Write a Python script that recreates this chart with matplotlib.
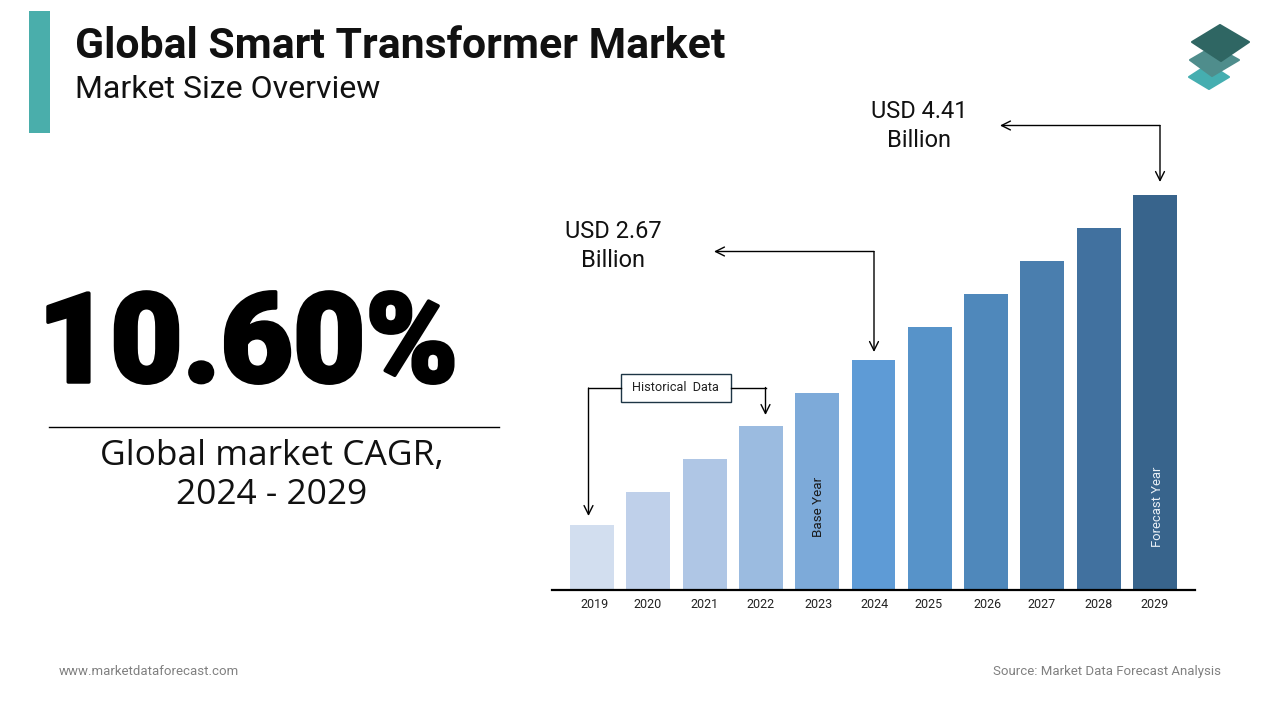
import matplotlib
matplotlib.use("Agg")
from matplotlib import pyplot as plt
from matplotlib import patheffects
from matplotlib.patches import Polygon, Rectangle

plt.rcParams['font.family'] = ['Roboto', 'DejaVu Sans']

# Data
years = ['2019', '2020', '2021', '2022', '2023', '2024', '2025', '2026', '2027', '2028', '2029']
heights = [65, 98, 131, 164, 197, 230, 263, 296, 329, 362, 395]
colors = ['#d2deef', '#bfd0ea', '#afc6e5', '#9bbbe0', '#7daad9', '#5e9bd6',
          '#5793c9', '#4f88bb', '#4a7eae', '#41719f', '#38648c']
label_nudge = [0.04, -0.01, 0.0, 0.0, 0.02, 0.01, -0.03, 0.03, -0.02, -0.01, 0.0]

W, H = 1280, 720
fig = plt.figure(figsize=(W / 100, H / 100), dpi=100, facecolor='white')

# overlay in pixel coordinates for the slide furniture
bg = fig.add_axes([0, 0, 1, 1])
bg.set_xlim(0, W)
bg.set_ylim(H, 0)
bg.axis('off')

# Chart
left, right, base, top = 552, 1195, 590, 100
ax = fig.add_axes([left / W, 1 - base / H, (right - left) / W, (base - top) / H])
ax.patch.set_alpha(0)
x = list(range(len(years)))
ax.bar(x, heights, width=0.78, color=colors)
ax.set_xlim(-0.71, 10.71)
ax.set_ylim(0, base - top)
for s in ['top', 'left', 'right']:
    ax.spines[s].set_visible(False)
ax.spines['bottom'].set_linewidth(1.6)
ax.set_yticks([])
ax.set_xticks([i + n for i, n in zip(x, label_nudge)])
ax.set_xticklabels(years, fontsize=9, color='#222222')
ax.tick_params(axis='x', length=0, pad=5.5)

ax.text(4.03, 53, 'Base Year', rotation=90, ha='center', va='bottom', fontsize=9.6, color='#1a1a1a')
ax.text(10.05, 43, 'Forecast Year', rotation=90, ha='center', va='bottom', fontsize=9.4, color='#eaf0f6')

# Header
bg.add_patch(Rectangle((29, 11), 21, 122, color='#4aaeab', lw=0))
bg.text(75, 46, 'Global Smart Transformer Market', fontsize=30.8, fontweight='bold',
        color='#111111', va='center', ha='left')
bg.text(75, 89, 'Market Size Overview', fontsize=23, color='#111111', va='center', ha='left')

# Left panel
big = bg.text(248, 348, '10.60%', fontsize=90, fontweight='black',
              color='black', ha='center', va='center')
big.set_path_effects([patheffects.withStroke(linewidth=2.5, foreground='black')])
bg.plot([49, 499], [427, 427], color='black', lw=1)
bg.text(272, 456, 'Global market CAGR,', fontsize=25.5, family=['Open Sans', 'Roboto'], color='#111111', ha='center', va='center')
bg.text(272, 495, '2024 - 2029', fontsize=25.5, family=['Open Sans', 'Roboto'], color='#111111', ha='center', va='center')

# Callouts
arrow = dict(arrowstyle='->', color='black', lw=1, mutation_scale=16, shrinkA=0, shrinkB=0)
bg.annotate('', xy=(1000, 125.5), xytext=(1160, 125.5), arrowprops=arrow)
bg.annotate('', xy=(1160, 182), xytext=(1160, 125.5), arrowprops=arrow)
bg.annotate('', xy=(714, 251.5), xytext=(874, 251.5), arrowprops=arrow)
bg.annotate('', xy=(874, 352), xytext=(874, 251.5), arrowprops=arrow)
bg.text(919, 126, 'USD 4.41\nBillion', fontsize=17, color='#111111', ha='center', va='center', linespacing=1.3)
bg.text(613, 246, 'USD 2.67\nBillion', fontsize=17, color='#111111', ha='center', va='center', linespacing=1.3)

bg.plot([621, 588.5], [388, 388], color='black', lw=1)
bg.annotate('', xy=(588.5, 516), xytext=(588.5, 388), arrowprops=arrow)
bg.plot([731, 765.5], [387.5, 387.5], color='black', lw=1)
bg.annotate('', xy=(765.5, 415), xytext=(765.5, 387.5), arrowprops=arrow)
bg.add_patch(Rectangle((621, 373.5), 110, 28, facecolor='white', edgecolor='#1d3545', lw=1))
bg.text(675.5, 387.5, 'Historical  Data', fontsize=9.2, color='#222222', ha='center', va='center')

# Logo
bg.add_patch(Polygon([(1209, 64), (1229, 77), (1209, 89), (1189, 77)], closed=True,
                     facecolor='#45aeb0', edgecolor='#45aeb0', lw=1.5, joinstyle='round'))
bg.add_patch(Polygon([(1214, 46), (1239, 60), (1212, 76), (1190, 60)], closed=True,
                     facecolor='#4f8d8c', edgecolor='#4f8d8c', lw=1.5, joinstyle='round'))
bg.add_patch(Polygon([(1220, 25), (1249, 42), (1221, 61), (1192, 42)], closed=True,
                     facecolor='#2f6663', edgecolor='#2f6663', lw=1.5, joinstyle='round'))

# Footer
bg.text(59, 671.5, 'www.marketdataforecast.com', fontsize=9.5, color='#808080', ha='left', va='center')
bg.text(1221, 671, 'Source: Market Data Forecast Analysis', fontsize=9.5, color='#808080', ha='right', va='center')

fig.savefig('out.png', dpi=100)
